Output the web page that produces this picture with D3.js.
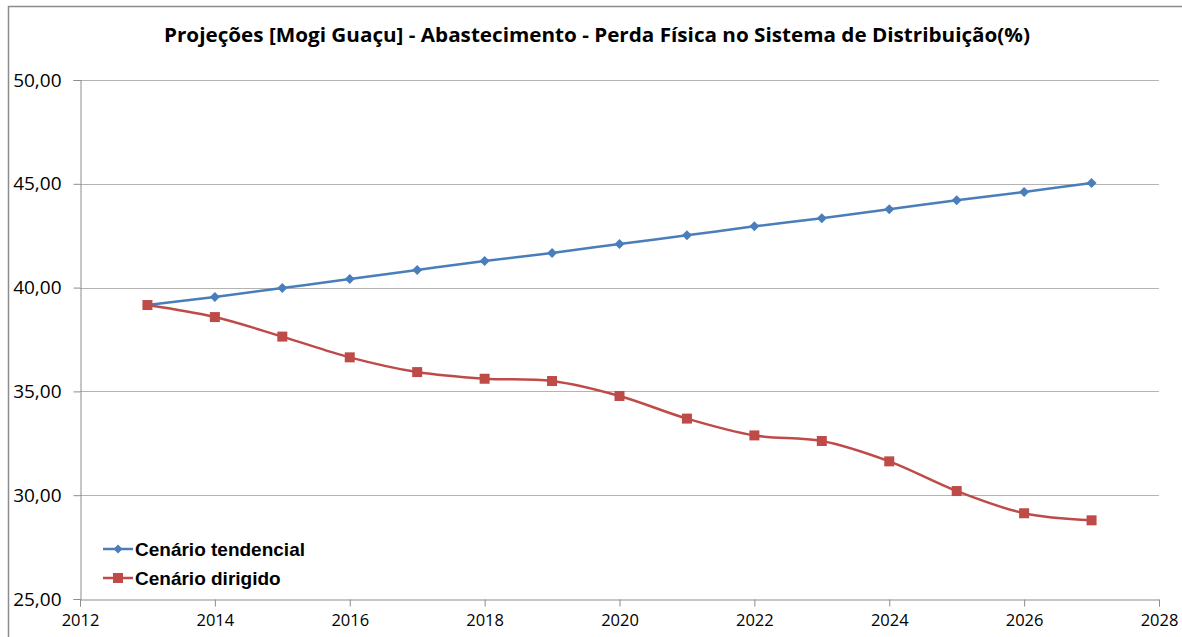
<!DOCTYPE html>
<html>
<head>
<meta charset="utf-8">
<script src="https://cdn.jsdelivr.net/npm/d3@7"></script>
<style>
  body { margin: 0; background: #fff; }
  svg { display: block; }
</style>
</head>
<body>
<svg id="chart" width="1182" height="637"></svg>
<script>
const years = [2013, 2014, 2015, 2016, 2017, 2018, 2019, 2020, 2021, 2022, 2023, 2024, 2025, 2026, 2027];
const tendencial = [39.16, 39.55, 39.98, 40.41, 40.85, 41.28, 41.67, 42.10, 42.52, 42.95, 43.34, 43.77, 44.21, 44.61, 45.04];
const dirigido = [39.16, 38.58, 37.64, 36.64, 35.93, 35.61, 35.50, 34.78, 33.69, 32.88, 32.61, 31.63, 30.20, 29.13, 28.79];
const xTicks = [2012, 2014, 2016, 2018, 2020, 2022, 2024, 2026, 2028];
const yTicks = [25, 30, 35, 40, 45, 50];
const seriesNames = ['Cenário tendencial', 'Cenário dirigido'];
const title = 'Projeções [Mogi Guaçu] - Abastecimento - Perda Física no Sistema de Distribuição(%)';

const svg = d3.select('#chart');
const margin = { left: 80, right: 23, top: 80, bottom: 38 };
const width = 1182, height = 637;

const x = d3.scaleLinear().domain([2012, 2028]).range([margin.left, width - margin.right]);
const y = d3.scaleLinear().domain([25, 50]).range([height - margin.bottom, margin.top]);

// outer frame (only top and left edges visible)
svg.append('path')
  .attr('d', `M8.5,${height} L8.5,6.5 L${width},6.5`)
  .attr('fill', 'none')
  .attr('stroke', '#8c8c8c')
  .attr('stroke-width', 1.5);

// title
svg.append('text')
  .attr('x', 597)
  .attr('y', 42)
  .attr('text-anchor', 'middle')
  .attr('font-family', 'Open Sans, sans-serif')
  .attr('font-weight', 'bold')
  .attr('font-size', 20)
  .attr('textLength', 866)
  .attr('lengthAdjust', 'spacingAndGlyphs')
  .text(title);

// gridlines
svg.append('g')
  .selectAll('line')
  .data(yTicks.slice(1))
  .join('line')
  .attr('x1', margin.left)
  .attr('x2', width - margin.right)
  .attr('y1', d => Math.round(y(d)) + 0.5)
  .attr('y2', d => Math.round(y(d)) + 0.5)
  .attr('stroke', '#b3b3b3')
  .attr('stroke-width', 1);

// y axis
const yAxis = svg.append('g')
  .attr('transform', `translate(${margin.left + 0.5},0)`)
  .call(d3.axisLeft(y).tickValues(yTicks).tickSize(7).tickPadding(12)
    .tickFormat(d => d3.format('.2f')(d).replace('.', ',')));
yAxis.select('.domain').attr('stroke', '#8c8c8c');
yAxis.selectAll('.tick line').attr('stroke', '#8c8c8c');
yAxis.selectAll('text')
  .attr('font-family', 'Open Sans, sans-serif')
  .attr('font-size', 19)
  .attr('fill', '#000');

// x axis
const xAxis = svg.append('g')
  .attr('transform', `translate(0,${height - margin.bottom + 0.5})`)
  .call(d3.axisBottom(x).tickValues(xTicks).tickSize(7).tickPadding(8).tickFormat(d3.format('d')));
xAxis.select('.domain').attr('stroke', '#8c8c8c');
xAxis.selectAll('.tick line').attr('stroke', '#8c8c8c');
xAxis.selectAll('text')
  .attr('font-family', 'Open Sans, sans-serif')
  .attr('font-size', 16.5)
  .attr('fill', '#000');

const colors = ['#4a7ebb', '#be4b48'];
const seriesData = [tendencial, dirigido];

const line = d3.line()
  .x((d, i) => x(years[i]))
  .y(d => y(d))
  .curve(d3.curveCatmullRom.alpha(0.5));

seriesData.forEach((vals, k) => {
  svg.append('path')
    .datum(vals)
    .attr('fill', 'none')
    .attr('stroke', colors[k])
    .attr('stroke-width', 2.5)
    .attr('d', line);
});

// markers: diamonds for tendencial, squares for dirigido
svg.append('g')
  .selectAll('path')
  .data(tendencial)
  .join('path')
  .attr('transform', (d, i) => `translate(${x(years[i])},${y(d)}) rotate(45)`)
  .attr('d', d3.symbol().type(d3.symbolSquare).size(50))
  .attr('fill', colors[0]);

svg.append('g')
  .selectAll('rect')
  .data(dirigido)
  .join('rect')
  .attr('x', (d, i) => x(years[i]) - 5)
  .attr('y', d => y(d) - 5)
  .attr('width', 10)
  .attr('height', 10)
  .attr('fill', colors[1]);

// legend
const legend = svg.append('g').attr('transform', 'translate(103,549)');
seriesNames.forEach((name, k) => {
  const g = legend.append('g').attr('transform', `translate(0,${k * 29})`);
  g.append('line')
    .attr('x1', 0).attr('x2', 30)
    .attr('stroke', colors[k])
    .attr('stroke-width', 2.5);
  if (k === 0) {
    g.append('path')
      .attr('transform', 'translate(15,0) rotate(45)')
      .attr('d', d3.symbol().type(d3.symbolSquare).size(40))
      .attr('fill', colors[k]);
  } else {
    g.append('rect')
      .attr('x', 10).attr('y', -5).attr('width', 10).attr('height', 10)
      .attr('fill', colors[k]);
  }
  g.append('text')
    .attr('x', 32)
    .attr('y', 7)
    .attr('font-family', 'Liberation Sans, Arial, sans-serif')
    .attr('font-weight', 'bold')
    .attr('font-size', 19)
    .attr('fill', '#000')
    .text(name);
});
</script>
</body>
</html>
